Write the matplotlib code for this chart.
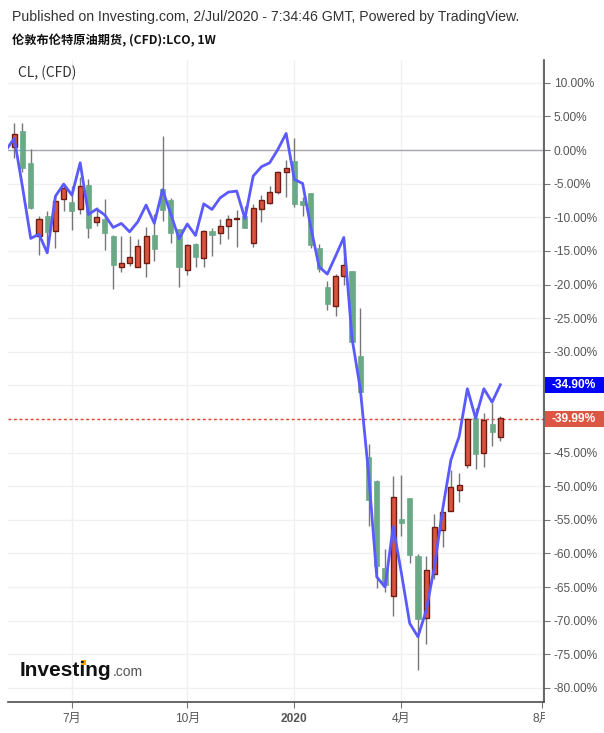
import numpy as np
import pandas as pd
import matplotlib
matplotlib.use('Agg')
import matplotlib.pyplot as plt
from matplotlib.patches import Rectangle
from matplotlib.transforms import Bbox, blended_transform_factory
from matplotlib.font_manager import FontProperties

plt.rcParams['font.family'] = ['Liberation Sans', 'Noto Sans CJK SC']

# weekly bars, LCO in % change; CL comparison line in % change
first_week = '2019-05-13'
n_bars = 60

opens = [0.40, 2.83, -1.89, -12.75, -9.82, -12.00, -7.24, -7.74, -8.83, -5.21,
         -10.66, -10.27, -12.80, -17.36, -16.77, -17.36, -16.77, -12.65, -5.80, -7.44,
         -11.76, -17.81, -13.99, -16.12, -12.05, -12.40, -11.26, -10.22, -9.82, -13.89,
         -8.83, -7.84, -6.30, -3.32, -1.64, -7.59, -6.40, -14.58, -20.39, -23.12,
         -18.80, -18.01, -30.65, -45.68, -49.26, -62.10, -66.32, -54.91, -51.79, -60.32,
         -69.54, -63.00, -56.50, -53.62, -50.50, -46.78, -39.88, -44.99, -40.77, -42.66]
highs = [3.97, 3.97, 0.10, -9.82, -9.08, -6.85, -5.26, -5.36, -3.97, -4.32,
         -8.43, -7.29, -12.65, -12.80, -12.80, -13.24, -11.46, -9.57, 2.08, -7.19,
         -11.76, -14.04, -13.79, -11.90, -11.56, -10.27, -9.67, -8.93, -8.33, -8.04,
         -6.70, -5.36, -3.13, -1.49, 1.79, -7.04, -6.40, -13.99, -19.54, -18.45,
         -14.88, -18.01, -23.46, -43.75, -49.11, -59.38, -48.46, -48.36, -51.79, -60.02,
         -60.42, -54.17, -53.92, -47.62, -47.97, -39.78, -38.39, -39.14, -37.55, -39.58]
lows = [-1.14, -3.30, -8.78, -15.63, -15.38, -14.53, -9.03, -11.90, -9.52, -13.05,
        -11.31, -14.88, -20.68, -18.15, -17.26, -17.36, -18.85, -16.47, -10.52, -13.79,
        -20.34, -18.55, -17.36, -17.36, -15.72, -13.94, -13.19, -14.38, -11.56, -14.38,
        -10.66, -7.99, -6.60, -6.94, -8.43, -9.82, -14.53, -18.11, -23.81, -24.65,
        -20.04, -28.92, -36.11, -55.90, -65.13, -65.72, -69.30, -57.39, -61.41, -77.38,
        -73.46, -63.79, -59.03, -53.62, -52.33, -47.27, -47.42, -47.12, -44.05, -43.30]
closes = [2.33, -2.63, -8.68, -10.32, -12.15, -7.59, -5.70, -9.08, -5.41, -11.56,
          -9.97, -12.30, -17.06, -16.87, -15.97, -14.33, -12.85, -14.68, -8.93, -12.30,
          -17.36, -14.19, -15.87, -12.05, -12.65, -11.31, -10.27, -10.17, -11.56, -8.68,
          -7.44, -6.25, -3.27, -2.73, -7.99, -8.14, -14.09, -17.66, -22.87, -18.75,
          -17.16, -28.52, -35.96, -52.08, -61.90, -64.73, -51.69, -55.46, -60.22, -69.74,
          -62.50, -56.15, -53.92, -50.20, -49.85, -40.03, -45.19, -40.18, -41.96, -39.99]

# CL line starts one bar before the first visible candle
cl_line = [0.0, 1.74, -5.50, -13.14, -12.50, -15.28, -6.85, -5.06, -6.70, -1.89,
           -9.57, -8.78, -9.67, -11.51, -10.91, -12.15, -10.66, -8.18, -10.90, -5.90,
           -9.50, -13.20, -11.00, -12.70, -8.00, -8.83, -7.09, -6.25, -6.10, -10.17,
           -3.87, -2.48, -1.89, 0.10, 2.48, -4.37, -4.96, -11.50, -17.36, -18.45,
           -15.77, -13.00, -28.00, -35.50, -48.00, -63.50, -65.00, -56.00, -63.00, -70.40,
           -72.40, -68.50, -62.00, -53.40, -46.10, -42.60, -35.50, -39.90, -35.50, -37.50,
           -34.90]

tick_months = [(2019, 7), (2019, 10), (2020, 1), (2020, 4), (2020, 8)]
tick_labels = ['7月', '10月', '2020', '4月', '8月']

opens = np.array(opens)
closes = np.array(closes)
highs = np.array(highs)
lows = np.array(lows)
x = np.arange(n_bars)
up = closes >= opens

dates = pd.date_range(first_week, periods=n_bars + 8, freq='W-MON')
tick_pos = []
for (yy, mm) in tick_months:
    for i, d in enumerate(dates):
        if d.year == yy and d.month == mm:
            tick_pos.append(i)
            break

red = '#d9533f'
red_edge = '#6e1d14'
green = '#6aa886'
wick = '#767676'

fig = plt.figure(figsize=(6.04, 7.33), dpi=100)
ax = fig.add_axes([8/604, 31/733, 536/604, 642/733])

ax.grid(color='#f0f0f2', lw=1)
ax.set_axisbelow(True)

ax.axhline(0, color='#a7a7b0', lw=1, zorder=1)
ax.axhline(closes[-1], color='#e5412d', lw=1, ls=(0, (2, 2)), zorder=1)

ax.vlines(x, lows, highs, color=wick, lw=1, zorder=2)
ax.bar(x[up], (closes - opens)[up] + 0.08, bottom=opens[up], width=0.62,
       color=red, edgecolor=red_edge, lw=1, zorder=3)
ax.bar(x[~up], (closes - opens)[~up], bottom=opens[~up], width=0.62,
       color=green, edgecolor=green, lw=0.5, zorder=3)

ax.plot(np.arange(-1, n_bars), cl_line, color='#5a5aff', lw=2, zorder=4)

ax.set_xlim(-0.76, 64.3)
ax.set_ylim(-82.1, 13.4)

# value boxes hide the scale labels they sit on
box_h = 16 / 6.72
last_vals = [cl_line[-1], closes[-1]]
yt = np.arange(-80, 15, 5)
ylabels = []
for v in yt:
    hidden = any(abs(v - lv) < box_h for lv in last_vals)
    ylabels.append('' if hidden else f'{v:.2f}%')

ax.yaxis.tick_right()
ax.set_yticks(yt)
ax.set_yticklabels(ylabels)
ax.set_xticks(tick_pos)
ax.set_xticklabels(tick_labels)
ax.tick_params(axis='both', length=4, color='#777777', labelcolor='#555555',
               labelsize=8.6, pad=3)
ax.tick_params(axis='x', pad=4)
xl = ax.get_xticklabels()
xl[2].set_fontweight('bold')
xl[-1].set_clip_box(Bbox.from_extents(0, 0, 545, 733))
xl[-1].set_clip_on(True)

for side in ['left', 'top']:
    ax.spines[side].set_visible(False)
for side in ['right', 'bottom']:
    ax.spines[side].set_color('#4d4d4d')
    ax.spines[side].set_linewidth(1.2)

tr = blended_transform_factory(fig.transFigure, ax.transData)
for val, col in zip(last_vals, ['#0000ff', '#dc5743']):
    ax.add_patch(Rectangle((545/604, val - box_h/2), 59/604, box_h, transform=tr,
                           facecolor=col, edgecolor='none', clip_on=False, zorder=5))
    ax.text(551/604, val, f'{val:.2f}%', transform=tr, color='white', fontsize=8.6,
            fontweight='bold', va='center', ha='left', clip_on=False, zorder=6)

fig.text(12/604, 1 - 17/733,
         'Published on Investing.com, 2/Jul/2020 - 7:34:46 GMT, Powered by TradingView.',
         fontsize=10.2, color='#333333', va='center')
fig.text(12/604, 1 - 41/733, '伦敦布伦特原油期货, (CFD):LCO, 1W',
         family=['Noto Sans CJK SC', 'DejaVu Sans'], fontweight='bold',
         fontsize=8.8, color='#111111', va='center')
fig.text(18/604, 1 - 73/733, 'CL, (CFD)', family=['Noto Sans CJK SC', 'DejaVu Sans'],
         fontsize=10, color='#333333', va='center')

# Investing.com logo
logo_fp = FontProperties(family='Liberation Sans', weight='bold', size=15)
logo_x, logo_y = 20, 676
fig.text(logo_x/604, 1 - logo_y/733, 'Investing', fontproperties=logo_fp,
         color='#111111', va='baseline')
renderer = fig.canvas.get_renderer()
w_all = renderer.get_text_width_height_descent('Investing', logo_fp, False)[0]
w_a = renderer.get_text_width_height_descent('Invest', logo_fp, False)[0]
w_b = renderer.get_text_width_height_descent('Investi', logo_fp, False)[0]
fig.text((logo_x + w_all + 1)/604, 1 - logo_y/733, '.com', fontsize=10,
         color='#555555', va='baseline')
dot_x = logo_x + (w_a + w_b) / 2
dot_y = logo_y - 13.5
fig.add_artist(Rectangle(((dot_x - 2.5)/604, 1 - (dot_y + 2.5)/733), 5/604, 5/733,
                         transform=fig.transFigure, facecolor='#f6a11a',
                         edgecolor='none'))

fig.savefig('out.png', dpi=100)
